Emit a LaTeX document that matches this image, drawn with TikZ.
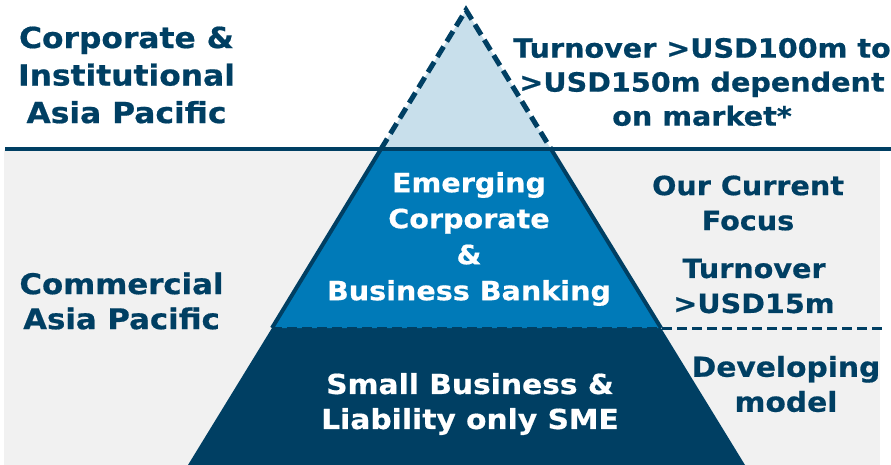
\documentclass[tikz,border=0pt]{standalone}
\usepackage{fontspec}
\setmainfont{DejaVu Sans}[BoldFeatures={FakeStretch=1.08, FakeBold=0.6}]
\usepackage{tikz}
\usetikzlibrary{calc}

\definecolor{navy}{HTML}{003F63}
\definecolor{midblue}{HTML}{007AB8}
\definecolor{paleblue}{HTML}{C8DFEB}
\definecolor{bggray}{HTML}{F1F1F1}

\tikzset{
  label/.style={text=navy, inner sep=0pt, align=center,
    font=\fontsize{27.5}{35}\selectfont\bfseries},
  tierlabel/.style={label, text=white}
}

\begin{document}
\begin{tikzpicture}[x=1pt, y=-1pt]
  \useasboundingbox (0,0) rectangle (891,465);
  \coordinate (apex) at (466,10);
  \coordinate (tL) at (381,149);
  \coordinate (tR) at (551,149);
  \coordinate (mL) at (272,328);
  \coordinate (mR) at (661,328);
  \coordinate (bL) at (188,465);
  \coordinate (bR) at (745,465);
  \coordinate (rowL) at (5,149);
  \coordinate (rowR) at (891,149);
  \coordinate (cutR) at (883,328);
  \fill[bggray] (4,150) rectangle (880,465);
  % pyramid tiers
  \fill[navy] (mL) -- (mR) -- (bR) -- (bL) -- cycle;
  \fill[midblue] (tL) -- (tR) -- (mR) -- (mL) -- cycle;
  \draw[navy, line width=4] (tL) -- (mL) (tR) -- (mR);
  \fill[paleblue] (tL) -- (apex) -- (tR) -- cycle;
  \draw[navy, line width=5, dash pattern=on 12 off 6] (tL) -- (apex) -- (tR);
  \draw[navy, line width=3.5] (rowL) -- (rowR);
  \draw[navy, line width=3, dash pattern=on 10 off 5] (mL) -- (cutR);
  % segment names
  \node[label, font=\fontsize{29}{37.5}\selectfont\bfseries] (corp) at (126.5,75) {Corporate \&\\Institutional\\Asia Pacific};
  \node[label, font=\fontsize{28.5}{35}\selectfont\bfseries] (comm) at (121.5,301) {Commercial\\Asia Pacific};
  % tier names
  \node[tierlabel, font=\fontsize{26.5}{36}\selectfont\bfseries] (ecbb) at (469,239) {Emerging\\Corporate\\\&\\Business Banking};
  \node[tierlabel] (sbl) at (470,404) {Small Business \&\\Liability only SME};
  % thresholds
  \node[label, font=\fontsize{26.5}{34}\selectfont\bfseries] (top) at (702,82) {Turnover >USD100m to\\>USD150m dependent\\on market*};
  \node[label, font=\fontsize{26.5}{35}\selectfont\bfseries] (focus) at (748,203) {Our Current\\Focus};
  \node[label, font=\fontsize{26.5}{35}\selectfont\bfseries] (mid) at (754,286) {Turnover\\>USD15m};
  \node[label] (dev) at (786,384) {Developing\\model};
\end{tikzpicture}
\end{document}
